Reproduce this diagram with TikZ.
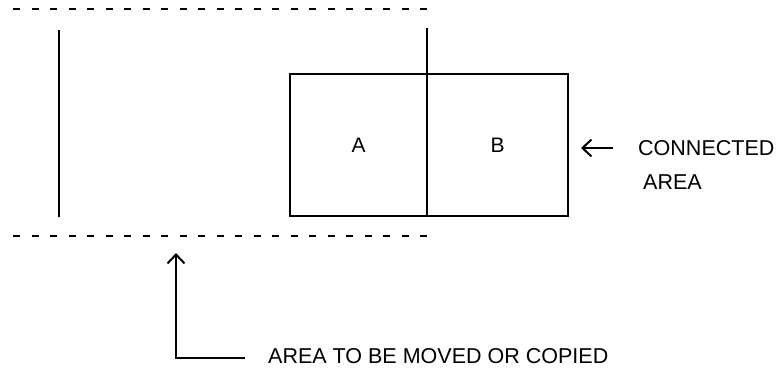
\documentclass[tikz,border=0pt]{standalone}
\usepackage{fontspec}
\setmainfont{Liberation Sans}
\usetikzlibrary{arrows.meta}
\begin{document}
\begin{tikzpicture}[x=1pt,y=-1pt,
  ln/.style={line width=2pt},
  dsh/.style={line width=2pt, dash pattern=on 7pt off 11.5pt},
  box/.style={draw, line width=2pt, minimum height=142pt, inner sep=0pt, outer sep=0pt, font=\fontsize{21}{25}\selectfont},
  lbl/.style={font=\fontsize{21.5}{26}\selectfont, inner sep=0pt, anchor=west},
  tip/.style={line width=2pt, -{Straight Barb[length=9pt,width=17pt,line width=2pt]}}]
\useasboundingbox (0,0) rectangle (781,378);
% boxes
\node[box, minimum width=137pt] (A) at (358.5,145) {A};
\node[box, minimum width=141pt] (B) at (497.5,145) {B};
% verticals
\coordinate (l1t) at (59,30);
\coordinate (l1b) at (59,217);
\coordinate (r1t) at (427,28);
\draw[ln] (l1t) -- (l1b);
\draw[ln] (r1t) -- (A.north east);
% dashed lines
\coordinate (d1s) at (13,9);
\coordinate (d1e) at (429,9);
\coordinate (d2s) at (13,236);
\coordinate (d2e) at (429,236);
\draw[dsh] (d1s) -- (d1e);
\draw[dsh] (d2s) -- (d2e);
% connected area label
\node[lbl] (conn) at (638,148) {CONNECTED};
\node[lbl] (area) at (643,182) {AREA};
\coordinate (ca) at (613,148);
\coordinate (cb) at (581,148);
\draw[tip] (ca) -- (cb);
% moved label
\node[lbl] (mv) at (268,356) {AREA TO BE MOVED OR COPIED};
\coordinate (m0) at (245,358);
\coordinate (m1) at (176,358);
\coordinate (m2) at (176,253);
\draw[tip] (m0) -- (m1) -- (m2);
\end{tikzpicture}
\end{document}
